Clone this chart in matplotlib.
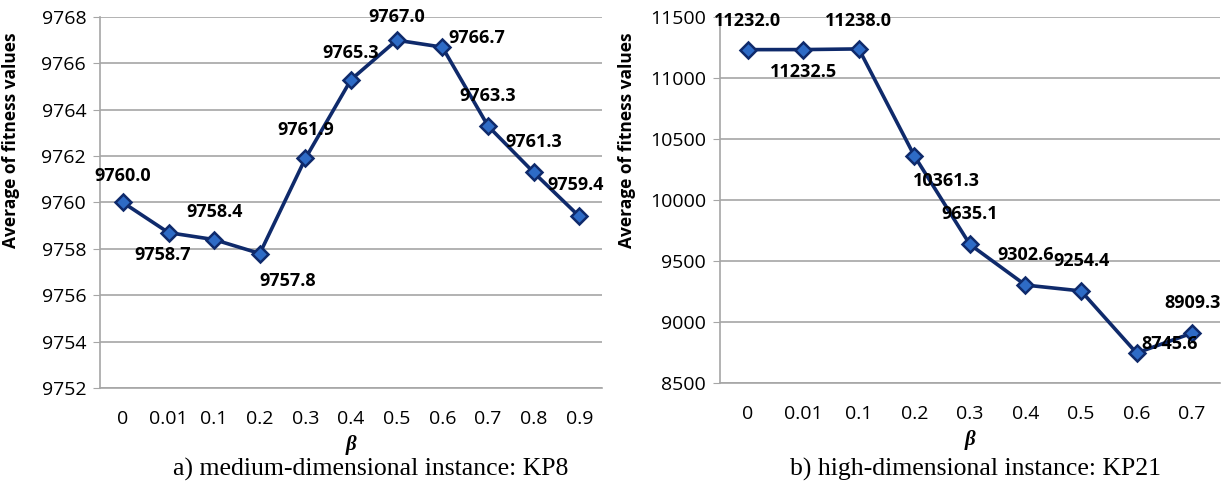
import matplotlib
matplotlib.use("Agg")
import matplotlib.pyplot as plt

# data for the two panels
beta_a = ["0", "0.01", "0.1", "0.2", "0.3", "0.4", "0.5", "0.6", "0.7", "0.8", "0.9"]
fit_a = [9760.0, 9758.7, 9758.4, 9757.8, 9761.9, 9765.3, 9767.0, 9766.7, 9763.3, 9761.3, 9759.4]

beta_b = ["0", "0.01", "0.1", "0.2", "0.3", "0.4", "0.5", "0.6", "0.7"]
fit_b = [11232.0, 11232.5, 11238.0, 10361.3, 9635.1, 9302.6, 9254.4, 8745.6, 8909.3]

# label offsets in pixels (dx, dy)
off_a = [(0, 26), (-6, -22), (0, 28), (28, -27), (0, 28), (0, 27),
         (0, 23), (34, 9), (0, 30), (0, 30), (-4, 31)]
off_b = [(0, 29), (0, -22), (0, 28), (32, -25), (0, 30), (0, 30),
         (0, 30), (33, 9), (0, 30)]

LINE = "#0f2a6b"
FILL = "#2e6bc6"
GRID = "#a6a6a6"
TICKFONT = "Open Sans"


def draw_panel(ax, cats, vals, offsets, ylim, step, caption, cap_x):
    x = list(range(len(cats)))
    ax.plot(x, vals, color=LINE, lw=2.6, marker="D", ms=8.5,
            mfc=FILL, mec=LINE, mew=1.8, zorder=3)
    for xi, v, (dx, dy) in zip(x, vals, offsets):
        ax.annotate(f"{v:.1f}", (xi, v), xytext=(dx, dy), textcoords="offset pixels",
                    ha="center", va="center", fontsize=13, fontweight="bold",
                    family=TICKFONT, zorder=4)
    ax.set_xlim(-0.5, len(cats) - 0.5)
    ax.set_ylim(*ylim)
    ax.set_yticks(range(ylim[0], ylim[1] + 1, step))
    ax.set_xticks(x)
    ax.set_xticklabels(cats)
    ax.yaxis.grid(True, color=GRID, lw=1.2)
    ax.set_axisbelow(True)
    for s in ["top", "right"]:
        ax.spines[s].set_visible(False)
    for s in ["left", "bottom"]:
        ax.spines[s].set_color(GRID)
        ax.spines[s].set_linewidth(1.2)
    ax.tick_params(axis="y", length=5, color=GRID, labelsize=14, pad=5)
    ax.tick_params(axis="x", length=0, labelsize=14, pad=16)
    for t in ax.get_xticklabels() + ax.get_yticklabels():
        t.set_family(TICKFONT)
    ax.set_ylabel("Average of fitness values", fontsize=12.5, fontweight="bold",
                  family=TICKFONT)
    ax.set_xlabel("β", fontsize=15, family="Liberation Serif",
                  fontstyle="italic", fontweight="bold", labelpad=5)
    fig.text(cap_x, 1 - 476 / 494, caption, ha="left", va="baseline", fontsize=18.5,
             family="Liberation Serif")


fig = plt.figure(figsize=(12.29, 4.94), dpi=100)
ax1 = fig.add_axes([0.0814, 0.2146, 0.4085, 0.751])
ax2 = fig.add_axes([0.5858, 0.2247, 0.4068, 0.741])

draw_panel(ax1, beta_a, fit_a, off_a, (9752, 9768), 2,
           "a) medium-dimensional instance: KP8", 173 / 1229)
draw_panel(ax2, beta_b, fit_b, off_b, (8500, 11500), 500,
           "b) high-dimensional instance: KP21", 790 / 1229)
ax1.yaxis.set_label_coords((20 / 1229 - 0.0814) / 0.4085, 0.668)
ax2.yaxis.set_label_coords((636 / 1229 - 0.5858) / 0.4068, 0.664)

fig.savefig("out.png", dpi=100)
